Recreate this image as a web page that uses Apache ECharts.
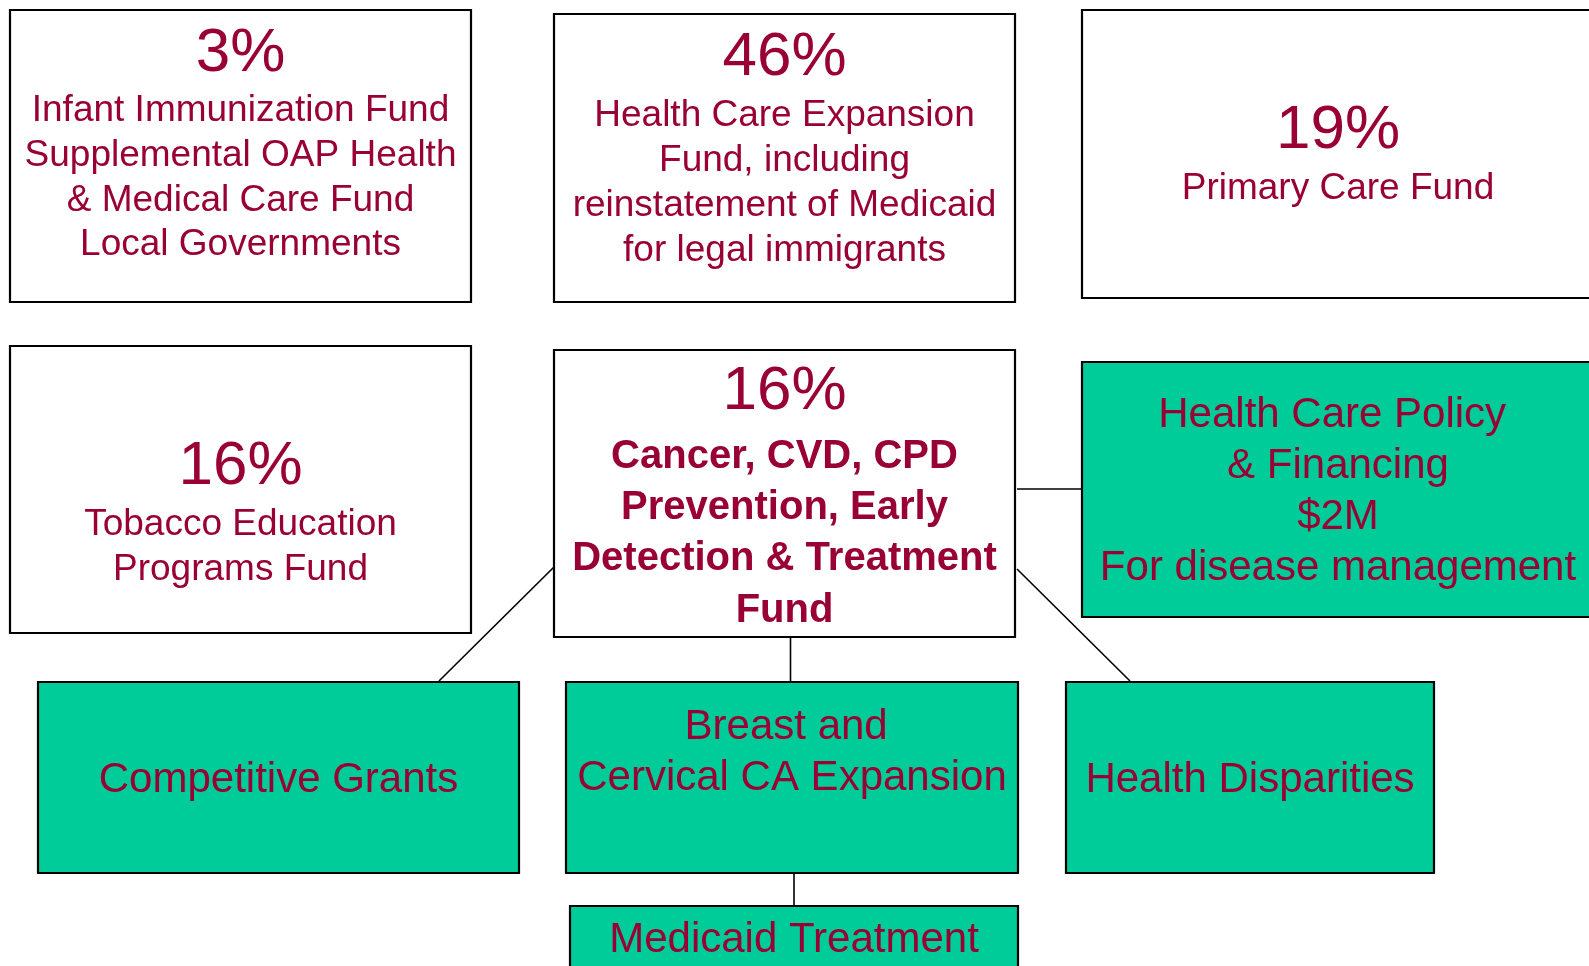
<!DOCTYPE html>
<html><head><meta charset="utf-8">
<script src="https://cdn.jsdelivr.net/npm/echarts@6/dist/echarts.min.js"></script>
<style>html,body{margin:0;padding:0;background:#fff}#c{width:1589px;height:966px}</style>
</head><body><div id="c"></div>
<script>
// ---------- Content ----------
const percentLabels = ['3%', '46%', '19%', '16%', '16%', '', '', '', '', ''];
const fundLines = [
  ['Infant Immunization Fund', 'Supplemental OAP Health', '& Medical Care Fund', 'Local Governments'],
  ['Health Care Expansion', 'Fund, including', 'reinstatement of Medicaid', 'for legal immigrants'],
  ['Primary Care Fund'],
  ['Tobacco Education', 'Programs Fund'],
  ['Cancer, CVD, CPD', 'Prevention, Early', 'Detection & Treatment', 'Fund'],
  ['Health Care Policy ', '& Financing', '$2M', 'For disease management'],
  ['Competitive Grants'],
  ['Breast and ', 'Cervical CA Expansion'],
  ['Health Disparities'],
  ['Medicaid Treatment']
];
const boxKinds = ['fund', 'fund', 'fund', 'fund', 'core', 'program', 'program', 'program', 'program', 'program'];
// connections: [fromBox, toBox]
const links = [[4, 5], [4, 6], [4, 7], [4, 8], [7, 9]];

// ---------- Layout (pixel space of the 1589x966 canvas) ----------
const boxRects = [
  [10, 10, 471, 302], [554, 14, 1015, 302], [1082, 10, 1594, 298],
  [10, 346, 471, 633], [554, 350, 1015, 637], [1082, 362, 1594, 617],
  [38, 682, 519, 873], [566, 682, 1018, 873], [1066, 682, 1434, 873],
  [570, 906, 1018, 1010]
];
const pctBaselines = [73, 77, 150, 486, 411, null, null, null, null, null];
const firstLineBaselines = [121.6, 126.7, 199.6, 535.5, 469, 428.5, 793.3, 740, 793.3, 952.7];
const linkPaths = [
  [1017, 489, 1082, 489], [554, 567, 439, 681], [790.5, 637, 790.5, 682],
  [1017, 569, 1130, 681], [794, 873, 794, 906]
];
const kindStyle = {
  fund:    { fill: '#ffffff', size: 37, weight: 'normal', gap: 44.9 },
  core:    { fill: '#ffffff', size: 40, weight: 'bold',   gap: 51.2 },
  program: { fill: '#00CC99', size: 42, weight: 'normal', gap: 51 }
};
const TEXT_COLOR = '#990033';
const FONT = '"Liberation Sans", Arial, sans-serif';
const PCT_SIZE = 62;
const MID = 0.30; // canvas 'middle' baseline offset (em)

// build text items
const textItems = [];
boxRects.forEach((r, i) => {
  const cx = (r[0] + r[2]) / 2;
  const ks = kindStyle[boxKinds[i]];
  if (percentLabels[i]) {
    textItems.push([cx, pctBaselines[i], percentLabels[i], PCT_SIZE, 'normal']);
  }
  fundLines[i].forEach((t, j) => {
    textItems.push([cx, firstLineBaselines[i] + j * ks.gap, t, ks.size, ks.weight]);
  });
});

const chart = echarts.init(document.getElementById('c'), null, { renderer: 'canvas' });
chart.setOption({
  animation: false,
  backgroundColor: '#ffffff',
  grid: { left: 0, right: 0, top: 0, bottom: 0 },
  xAxis: { type: 'value', min: 0, max: 1589, show: false },
  yAxis: { type: 'value', min: 0, max: 966, inverse: true, show: false },
  series: [
    {
      type: 'custom', clip: false, z: 1,
      data: linkPaths,
      renderItem: (params, api) => {
        const a = api.coord([api.value(0), api.value(1)]);
        const b = api.coord([api.value(2), api.value(3)]);
        return { type: 'line', shape: { x1: a[0], y1: a[1], x2: b[0], y2: b[1] },
          style: { stroke: '#000', lineWidth: 1.6 } };
      }
    },
    {
      type: 'custom', clip: false, z: 2,
      data: boxRects.map((r, i) => [r[0], r[1], r[2], r[3], i]),
      renderItem: (params, api) => {
        const a = api.coord([api.value(0), api.value(1)]);
        const b = api.coord([api.value(2), api.value(3)]);
        const ks = kindStyle[boxKinds[api.value(4)]];
        return { type: 'rect', shape: { x: a[0], y: a[1], width: b[0] - a[0], height: b[1] - a[1] },
          style: { fill: ks.fill, stroke: '#000', lineWidth: 2.2 } };
      }
    },
    {
      type: 'custom', clip: false, z: 3,
      data: textItems,
      renderItem: (params, api) => {
        const it = textItems[params.dataIndex];
        const p = api.coord([it[0], it[1]]);
        const size = it[3];
        return { type: 'text', x: p[0], y: p[1] - MID * size,
          style: { text: it[2], fill: TEXT_COLOR,
            font: (it[4] === 'bold' ? 'bold ' : '') + size + 'px ' + FONT,
            align: 'center', verticalAlign: 'middle',
            textAlign: 'center', textVerticalAlign: 'middle' } };
      }
    }
  ]
});
</script></body></html>
